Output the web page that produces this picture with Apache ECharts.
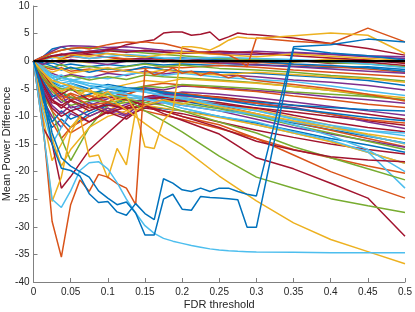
<!DOCTYPE html>
<html><head><meta charset="utf-8">
<script src="https://cdn.jsdelivr.net/npm/echarts@6/dist/echarts.min.js"></script>
<style>html,body{margin:0;padding:0;background:#fff}#c{width:415px;height:312px}</style>
</head><body><div id="c"></div>
<script>
// x grids (FDR threshold)
const X_MED = [0,0.0125,0.025,0.0375,0.05,0.075,0.1,0.125,0.15,0.175,0.2,0.25,0.3,0.35,0.4,0.45,0.5];
const X_FINE = [0,0.0125,0.025,0.0375,0.05,0.0625,0.075,0.0875,0.1,0.1125,0.125,0.1375,0.15,0.1625,0.175,0.1875,0.2,0.2125,0.225,0.2375,0.25,0.2625,0.275,0.2875,0.3,0.35,0.4,0.45,0.5];
const ZERO_X = [0,0.5];
const ZERO_Y = [0,0];

// lines above zero (X_MED)
const p1 = [0,0.8,2.2,2.6,2.0,1.6,1.4,1.0,0.8,0.5,0.6,0.3,0.0,-0.5,-0.8,-1.2,-1.8];
const p2 = [0,0.5,1.5,2.0,2.3,2.5,2.0,1.8,1.5,1.2,1.0,0.5,0.3,0.2,-0.3,-0.5,-1.0];
const p3 = [0,0.8,1.8,2.6,2.8,2.7,2.5,2.6,2.3,2.0,1.8,1.5,1.8,1.5,1.2,0.8,0.5];
const p8 = [0,0.2,0.6,0.8,1.0,0.5,0.8,1.2,1.0,0.6,0.4,0.7,0.5,0.3,0.0,-0.5,-1.2];
const p9 = [0,0.3,1.0,1.2,1.5,1.8,2.2,2.0,1.8,1.6,1.5,1.4,1.2,1.6,1.3,1.0,0.8];
const p10 = [0,0.4,0.9,1.3,1.0,1.5,1.9,1.6,2.0,1.7,1.4,1.8,1.5,1.0,0.6,0.2,-0.4];
const p11 = [0,0.3,0.8,0.5,1.2,0.9,1.4,1.1,0.7,1.2,1.6,1.2,0.8,1.3,0.9,0.5,0.2];

// lines near zero (X_MED)
const a1 = [0,-0.5,-0.3,-0.8,-0.5,-1.0,-0.6,-0.9,-0.4,-0.7,-0.5,-0.8,-0.6,-0.9,-1.2,-1.0,-1.5];
const a2 = [0,-1.0,-1.5,-1.2,-1.8,-1.4,-2.0,-1.6,-1.3,-1.0,-1.2,-0.8,-1.1,-1.6,-2.0,-2.4,-2.8];
const a3 = [0,0.3,-0.2,0.4,0.1,-0.3,0.2,0.5,0.3,0.0,-0.2,0.3,0.1,-0.2,0.4,0.2,-0.3];
const a4 = [0,-1.5,-2.2,-2.8,-2.4,-3.0,-2.2,-2.6,-1.8,-2.3,-1.9,-2.4,-2.8,-3.4,-3.8,-4.4,-5.2];
const a5 = [0,-0.8,-1.2,-0.6,-1.4,-0.9,-1.5,-1.0,-0.5,-1.0,-0.7,-1.3,-1.6,-2.0,-2.6,-3.0,-3.6];
const a6 = [0,-2.0,-3.0,-2.5,-3.5,-2.8,-3.2,-2.4,-2.0,-2.6,-2.2,-2.9,-3.3,-3.7,-4.5,-5.4,-6.2];
const a7 = [0,0.6,1.0,0.5,0.8,1.2,0.7,0.3,0.6,0.2,0.5,0.0,-0.3,0.2,-0.4,-0.2,-0.8];
const a8 = [0,-0.3,-0.9,-1.6,-1.1,-2.0,-1.3,-1.8,-1.0,-1.5,-1.8,-2.0,-2.2,-2.6,-3.0,-3.5,-4.4];
const a9 = [0,0.2,0.8,1.2,0.9,0.5,0.8,0.4,0.0,0.3,-0.1,-0.4,-0.2,-0.6,-1.0,-1.4,-2.0];
const a10 = [0,-1.2,-2.0,-1.4,-2.2,-1.6,-1.2,-1.8,-2.2,-1.6,-2.0,-2.5,-2.0,-2.4,-2.8,-3.2,-3.8];
const a11 = [0,-0.6,0.2,-0.4,0.3,-0.2,-0.6,0.0,0.4,-0.1,0.2,-0.3,-0.7,-1.0,-1.4,-1.8,-2.2];
const a12 = [0,-2.5,-3.6,-3.0,-2.6,-3.4,-2.8,-3.3,-2.5,-2.8,-3.0,-3.4,-3.9,-4.6,-5.3,-6.2,-7.0];

// moderately negative lines (X_MED)
const b1 = [0,-3.5,-6.0,-7.5,-6.5,-8.0,-6.8,-5.5,-4.8,-5.2,-4.5,-4.8,-5.3,-5.8,-6.5,-7.0,-7.6];
const b2 = [0,-4.0,-7.0,-8.5,-7.2,-9.0,-7.5,-8.8,-6.5,-5.8,-6.0,-6.5,-7.2,-8.0,-8.8,-9.6,-10.5];
const b3 = [0,-5.0,-8.0,-9.5,-8.0,-10.0,-8.5,-9.8,-7.0,-6.2,-5.6,-6.0,-6.6,-7.4,-8.2,-9.0,-9.8];
const b4 = [0,-3.0,-5.0,-6.5,-5.8,-7.0,-5.5,-6.2,-4.5,-4.0,-4.3,-5.0,-5.5,-6.3,-7.0,-7.8,-8.4];
const b5 = [0,-4.5,-7.5,-8.0,-9.0,-8.0,-9.5,-8.2,-7.0,-6.5,-6.8,-7.5,-8.5,-9.8,-11.0,-12.0,-12.8];
const b6 = [0,-2.5,-4.5,-5.5,-4.8,-6.5,-5.0,-4.2,-3.5,-3.8,-3.2,-3.6,-4.0,-4.6,-5.3,-6.0,-6.6];
const b7 = [0,-3.0,-5.5,-7.0,-8.0,-7.2,-6.0,-5.2,-4.5,-4.8,-4.2,-4.6,-5.0,-5.6,-6.0,-6.4,-7.0];
const b8 = [0,-2.0,-4.0,-5.0,-4.5,-5.5,-6.0,-5.5,-5.2,-5.8,-6.5,-7.8,-9.0,-10.4,-11.6,-12.6,-13.5];
const b9 = [0,-3.5,-6.5,-5.5,-7.0,-6.0,-5.0,-5.5,-5.0,-5.8,-6.2,-6.8,-7.4,-8.0,-8.4,-8.8,-9.0];
const b10 = [0,-5.5,-8.5,-10.0,-9.0,-11.0,-9.2,-10.5,-8.0,-7.0,-7.2,-7.8,-8.5,-9.2,-10.0,-10.8,-11.6];
const b11 = [0,-4.2,-7.0,-6.0,-8.5,-7.5,-9.0,-7.8,-6.8,-6.0,-6.2,-7.0,-7.6,-8.4,-9.6,-11.0,-12.2];
const b12 = [0,-2.8,-4.8,-6.0,-7.0,-6.2,-7.4,-6.0,-5.0,-5.5,-5.8,-6.6,-7.6,-8.6,-9.6,-10.6,-11.2];
const b13 = [0,-1.5,-3.0,-4.0,-3.6,-4.4,-4.8,-5.2,-5.6,-6.2,-6.8,-8.2,-9.8,-11.0,-12.0,-12.6,-13.0];
const b14 = [0,-2.2,-3.8,-4.6,-4.0,-5.0,-4.2,-4.8,-5.0,-5.6,-6.0,-7.0,-8.0,-8.6,-9.4,-10.2,-10.8];

// early deep dips (X_MED)
const c1 = [0,-8,-12,-10.5,-12,-9.5,-8,-7,-6.5,-6.8,-7.2,-8.4,-9.8,-11.2,-12.4,-13.6,-14.8];
const c2 = [0,-6,-11,-14,-12,-10,-8.5,-9.5,-7.5,-6.5,-7,-8,-9.5,-11,-12.5,-14,-15.5];
const c3 = [0,-10,-18,-15,-12,-8,-9,-7,-6.5,-6,-6.5,-7.6,-8.8,-10.2,-11.6,-13.4,-15];
const c4 = [0,-7,-10,-12,-9.5,-11,-9,-10,-8,-7.5,-8,-9,-10.5,-12,-13.2,-14.4,-15.6];
const c5 = [0,-6,-9,-14,-18,-12,-8,-7.5,-7,-7.2,-7.6,-8.6,-10,-11.6,-13,-14.5,-16];
const c6 = [0,-9,-15,-12,-9,-7.5,-6.5,-6,-6.5,-7.5,-8.5,-10,-11.5,-13,-14.5,-16.5,-18.5];
const c7 = [0,-12,-14.9,-23,-20.9,-16.1,-13,-10,-8.5,-9,-9.5,-11,-12.5,-13.8,-15,-16,-16.8];
const c8 = [0,-5,-9,-11,-13,-11,-9,-8.5,-9,-9.8,-10.5,-12.2,-14,-16,-17.5,-19,-20.3];
const c9 = [0,-7,-11,-9,-10.5,-9,-7.8,-8.5,-8.2,-8.6,-9,-10,-11.2,-12.6,-14,-15.2,-16.5];
const c10 = [0,-8,-14,-19,-16,-12,-10,-9,-8,-8.5,-9,-10.2,-11.5,-13,-14.6,-16.5,-18.5];

// declining lines on the right (X_MED)
const lb1 = [0,-1,-2.5,-3.5,-3.2,-4.5,-5.5,-6,-6.8,-7.5,-8.5,-10,-11,-12.8,-14.3,-16.4,-23];
const lb2 = [0,-2,-3.5,-4.5,-4,-5.5,-6,-6.5,-7,-7.4,-8,-9,-9.6,-11.5,-13.5,-16,-20];
const lb3 = [0,-1.5,-2.6,-3,-3.4,-4,-4.5,-5,-5.6,-6.2,-6.8,-8,-9,-10.5,-12,-13.5,-14.9];
const g2 = [0,-2,-4,-5.5,-6.5,-7,-7.5,-7,-7.5,-8,-9,-11,-13,-15.5,-17.5,-19.5,-21.5];
const o2 = [0,-3,-5,-7,-6,-8,-7.5,-8.5,-8,-9,-10,-11.5,-14,-17,-20,-22.5,-24.8];
const dr2 = [0,-2,-4.5,-6,-5,-7,-6.5,-7,-8,-9.5,-10.7,-13.2,-17.5,-19.5,-22.1,-24.8,-31.7];
const dr3 = [0,-4,-7,-8,-7,-8.5,-8,-8.5,-8.2,-9,-10,-12,-14.5,-16.1,-17.3,-17.9,-18.2];
const gM = [0,-3,-4.5,-5,-5.2,-5.5,-6,-6.8,-9,-10.8,-12.8,-17.2,-21,-23,-24.9,-26.2,-27.4];
const yM = [0,-2,-3.5,-4,-4.5,-5.5,-6.5,-8.8,-11.3,-13.7,-15.6,-20.8,-25.3,-29.3,-32.3,-34.5,-36.7];

// detailed lines (X_FINE)
const p4 = [0,0.4,0.9,1.1,1.4,1.5,1.8,1.7,2.1,2.4,3.0,3.3,3.6,3.9,5.1,5.3,5.3,4.7,4.9,5.3,3.8,4.4,5.1,4.9,4.8,4.2,3.2,2.3,1.1];
const orange3 = [0,0.8,1.5,2.0,2.3,2.5,2.2,2.6,3.0,3.3,3.5,3.4,3.5,3.3,3.2,2.8,2.4,2.0,1.6,1.4,1.3,1.1,0.3,-1.0,4.2,3.6,3.2,6.0,3.5];
const yellow2 = [0,-2,-4,-5.5,-4.5,-6,-5,-6.5,-5.5,-7,-6.5,-9,-15.5,-15.8,-10.7,-9,2.6,2.6,2.4,2.0,2.8,3.8,4.4,4.2,4.1,4.6,5.1,4.7,1.4];
const yellowD = [0,-12,-25.4,-21,-13,-10,-17.3,-17.0,-21.2,-15.8,-18.8,-9,-8,-7.5,-7.0,-7.4,-7.8,-7.2,-7.6,-8.0,-8.3,-8.6,-8.9,-9.2,-9.5,-10.8,-12.0,-13.2,-14.2];
const orangeD = [0,-11,-29,-35.5,-26,-21.5,-23.6,-20.5,-21.0,-22.2,-23.0,-26.0,-1.5,-2.5,-2.0,-1.2,-2.2,-1.8,-2.6,-2.0,-2.4,-3.0,-2.6,-3.2,-3.5,-4.2,-5.0,-6.0,-7.2];
const lightblueD = [0,-12,-25,-26.5,-23.5,-19.8,-18.4,-18.2,-19.5,-22,-25,-27.5,-29.8,-31.2,-32.1,-32.6,-33.0,-33.4,-33.7,-34.0,-34.2,-34.35,-34.45,-34.5,-34.55,-34.6,-34.7,-34.7,-34.7];
const blueA = [0,-6,-15,-19.4,-19.8,-20.8,-24.0,-25.6,-25.4,-27.3,-27.9,-25.8,-27.6,-28.7,-21.3,-22.1,-23.3,-23.6,-23.0,-23.6,-23.0,-23.0,-23.6,-24.1,-24.4,2.6,3.0,4.0,3.5];
const blueB = [0,-5,-13,-17.5,-19.0,-20.0,-21.0,-23.5,-24.8,-26.0,-25.5,-27.5,-31.5,-31.5,-25.0,-24.1,-26.8,-27.0,-24.5,-24.7,-24.8,-24.9,-25.1,-30.1,-30.1,2.3,1.5,1.0,0.2];

const COL = {blue:'#0072BD', orange:'#D95319', yellow:'#EDB120', purple:'#7E2F8E', green:'#77AC30', lblue:'#4DBEEE', dred:'#A2142F'};

const MED = [
  [a1,'blue'],[a2,'orange'],[a3,'yellow'],[a4,'purple'],[a5,'green'],[a6,'lblue'],[a7,'dred'],
  [a8,'blue'],[a9,'orange'],[a10,'yellow'],[a11,'purple'],[a12,'green'],
  [c1,'blue'],[c2,'orange'],[c3,'yellow'],[c4,'purple'],[c5,'green'],[c6,'lblue'],[c7,'dred'],
  [c8,'orange'],[c9,'blue'],[c10,'yellow'],
  [b1,'purple'],[b2,'dred'],[b3,'purple'],[b4,'orange'],[b5,'dred'],[b6,'yellow'],[b7,'green'],
  [b8,'lblue'],[b9,'blue'],[b10,'dred'],[b11,'purple'],[b12,'orange'],[b13,'lblue'],[b14,'blue'],
  [lb1,'lblue'],[lb2,'lblue'],[lb3,'lblue'],[g2,'green'],[o2,'orange'],[dr2,'dred'],[dr3,'dred'],
  [gM,'green'],[yM,'yellow'],
  [p1,'blue'],[p2,'green'],[p3,'purple'],[p8,'lblue'],[p9,'purple'],[p10,'dred'],[p11,'yellow']
];
const FINE = [
  [p4,'dred'],[orange3,'orange'],[yellow2,'yellow'],[yellowD,'yellow'],[orangeD,'orange'],
  [lightblueD,'lblue'],[blueA,'blue'],[blueB,'blue']
];

function mk(xs, ys, color, w, z) {
  return {type:'line', data: xs.map((x,i)=>[x, ys[i]]), symbol:'none', showSymbol:false,
    lineStyle:{color: color, width: w}, itemStyle:{color: color}, z: z, silent:true, animation:false};
}
const series = [];
MED.forEach(([ys,c])=>series.push(mk(X_MED, ys, COL[c], 1.5, 2)));
FINE.forEach(([ys,c])=>series.push(mk(X_FINE, ys, COL[c], 1.5, 3)));
series.push(mk(ZERO_X, ZERO_Y, '#000000', 2.2, 4));

const chart = echarts.init(document.getElementById('c'), null, {renderer:'canvas'});
const axisCol = '#808080';
const txtCol = '#262626';
const FF = 'Liberation Sans, Arial, sans-serif';
chart.setOption({
  animation:false,
  backgroundColor:'#ffffff',
  grid:{left:33.5, right:10, top:6, bottom:30, containLabel:false, outerBoundsMode:'none'},
  xAxis:{type:'value', min:0, max:0.5, interval:0.05,
    name:'FDR threshold', nameLocation:'middle', nameGap:17, nameMoveOverlap:false,
    nameTextStyle:{color:txtCol, fontSize:11, fontFamily:FF},
    axisLine:{show:true, onZero:false, lineStyle:{color:axisCol, width:1}},
    axisTick:{show:true, inside:true, length:4, lineStyle:{color:axisCol}},
    axisLabel:{color:txtCol, fontSize:10, margin:5, fontFamily:FF},
    splitLine:{show:false}},
  yAxis:{type:'value', min:-40, max:10, interval:5,
    name:'Mean Power Difference', nameLocation:'middle', nameGap:21, nameRotate:90, nameMoveOverlap:false,
    nameTextStyle:{color:txtCol, fontSize:11, fontFamily:FF},
    axisLine:{show:true, onZero:false, lineStyle:{color:axisCol, width:1}},
    axisTick:{show:true, inside:true, length:4, lineStyle:{color:axisCol}},
    axisLabel:{color:txtCol, fontSize:10, margin:4, fontFamily:FF},
    splitLine:{show:false}},
  series: series
});
</script></body></html>
